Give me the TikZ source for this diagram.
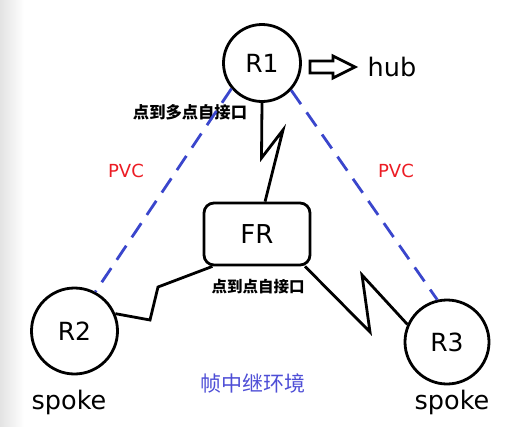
\documentclass[tikz,border=0pt]{standalone}
\usepackage{fontspec}
\setmainfont{DejaVu Sans}
\newfontfamily\cjk{Noto Sans CJK SC}
\usepackage{tikz}
\usetikzlibrary{calc,positioning,shapes.geometric}

\definecolor{pvcred}{RGB}{236,28,36}
\definecolor{pvcblue}{RGB}{58,70,204}
\definecolor{envblue}{RGB}{78,78,214}

\tikzset{
    router/.style={draw, circle, line width=2.8pt, inner sep=0pt, font=\fontsize{25}{25}\selectfont},
    frbox/.style={draw, rounded corners=10pt, line width=2.8pt, minimum width=106pt, minimum height=62pt, font=\fontsize{26}{26}\selectfont},
    serial/.style={line width=2.8pt, line join=miter},
    pvc/.style={line width=2.8pt, pvcblue, dash pattern=on 17pt off 10pt},
    role/.style={font=\fontsize{25.5}{26}\selectfont},
    iflabel/.style={font=\cjk\bfseries\fontsize{15.5}{16}\selectfont}
}

\begin{document}
\begin{tikzpicture}[x=1pt, y=-1pt]
                \useasboundingbox (0,0) rectangle (509,426);
                \shade[left color=black!11, right color=white] (0,0) rectangle (24,426);
                \node (r1) [router, minimum size=77pt] at (262,63) {R1};
                \node (r2) [router, minimum size=86pt] at (74.5,331) {R2};
                \node (r3) [router, minimum size=84pt] at (447,342) {R3};
                \node (fr) [frbox] at (257,234) {FR};
                \node (hub) [role] at (392,67) {hub};
                \node (spoke2) [role] at (69,402) {spoke};
                \node (spoke3) [role] at (452,402) {spoke};
                \node (pvcleft) [text=pvcred, font=\fontsize{18}{18}\selectfont] at (126,171) {PVC};
                \node (pvcright) [text=pvcred, font=\fontsize{18}{18}\selectfont] at (396,171) {PVC};
                \node (multi) [iflabel, font=\cjk\bfseries\fontsize{16.3}{17}\selectfont] at (190,112) {点到多点自接口};
                \node (p2p) [iflabel] at (258,287) {点到点自接口};
                \node (env) [text=envblue, font=\cjk\fontsize{21}{22}\selectfont] at (253,383) {帧中继环境};
                % hub arrow
                \draw[line width=2.8pt, line join=miter] (310,61) -- (333,61) -- (333,56) -- (355,67) -- (333,78) -- (333,73) -- (310,73) -- cycle;
                % serial links
                \coordinate (z1a) at (261.5,158);
                \coordinate (z1b) at (283,130);
                \draw[serial] (r1.south) -- (z1a) -- (z1b) -- (fr.76);
                \coordinate (z2a) at (158,287);
                \coordinate (z2b) at (150,320);
                \draw[serial] (fr.216) -- (z2a) -- (z2b) -- (r2.23);
                \coordinate (z3a) at (370,332);
                \coordinate (z3b) at (362,275);
                \draw[serial] (fr.326) -- (z3a) -- (z3b) -- (r3.156);
                % pvc
                \draw[pvc] (r1.220) -- (r2.62);
                \draw[pvc] (r1.317) -- (r3.103);
            \end{tikzpicture}
\end{document}
